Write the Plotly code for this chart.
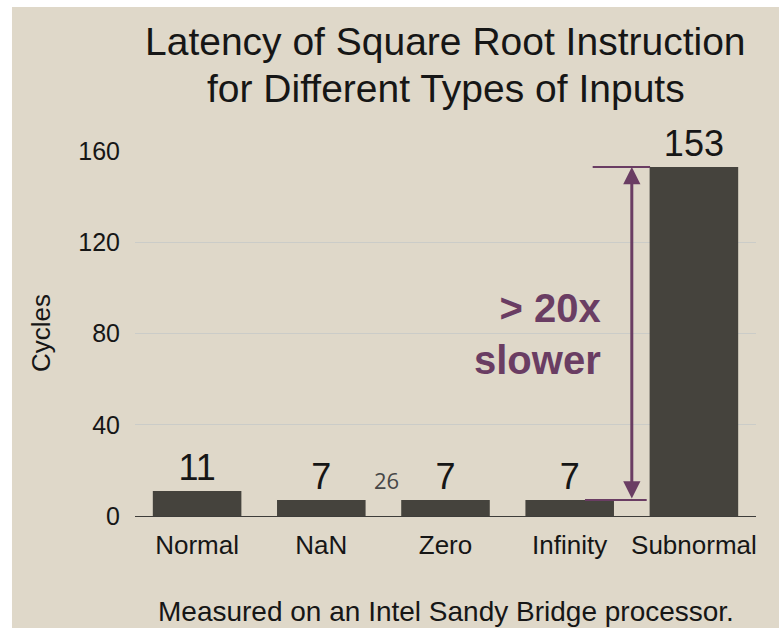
import plotly.graph_objects as go

# Square-root latency by input class (cycles)
categories = ["Normal", "NaN", "Zero", "Infinity", "Subnormal"]
cycles = [11, 7, 7, 7, 153]
y_ticks = [0, 40, 80, 120, 160]

# Reference values for the slowdown bracket
fast_value = 7
slow_value = 153

BG = "#dfd8c9"
BAR = "#45433d"
PURPLE = "#6a3d63"
TEXT = "#161616"
FONT = "Liberation Sans, Arial, sans-serif"

fig = go.Figure()

fig.add_trace(go.Bar(
    x=categories,
    y=cycles,
    marker=dict(color=BAR, line=dict(width=0)),
    text=[str(v) for v in cycles],
    textposition="outside",
    textfont=dict(family=FONT, size=36, color=TEXT),
    cliponaxis=False,
    hoverinfo="skip",
))

annotations = [
    # Title, one annotation per line
    dict(text="Latency of Square Root Instruction",
         xref="paper", yref="paper", x=0.5, y=1.300, xanchor="center", yanchor="middle",
         showarrow=False, font=dict(family=FONT, size=39, color=TEXT)),
    dict(text="for Different Types of Inputs",
         xref="paper", yref="paper", x=0.5, y=1.1715, xanchor="center", yanchor="middle",
         showarrow=False, font=dict(family=FONT, size=39, color=TEXT)),
    # Y-axis title
    dict(text="Cycles", textangle=-90, xref="paper", yref="paper", x=-0.1514, y=0.501,
         xanchor="center", yanchor="middle", showarrow=False,
         font=dict(family=FONT, size=26, color=TEXT)),
    # Footnote
    dict(text="Measured on an Intel Sandy Bridge processor.", xref="paper", yref="paper",
         x=0.5, y=-0.263, xanchor="center", yanchor="middle", showarrow=False,
         font=dict(family=FONT, size=28, color=TEXT)),
    # Slide number
    dict(text="26", xref="x", yref="y", x=1.525, y=15.6, xanchor="center", yanchor="middle",
         showarrow=False, font=dict(family="Open Sans, sans-serif", size=22, color="#474747")),
    # Slowdown callout
    dict(text="<b>&gt; 20x<br>slower</b>", xref="x", yref="y", x=3.265, y=80,
         xanchor="right", yanchor="middle", align="right", showarrow=False,
         font=dict(family=FONT, size=40, color=PURPLE)),
    # Double-headed arrow between the two levels
    dict(text="", xref="x", yref="y", x=3.5, y=slow_value, axref="x", ayref="y",
         ax=3.5, ay=fast_value, showarrow=True, arrowside="end+start",
         arrowhead=2, startarrowhead=2, arrowsize=1.15, startarrowsize=1.15,
         arrowwidth=3, arrowcolor=PURPLE, standoff=0, startstandoff=0),
]

shapes = [
    # white border strips along the left and top edges
    dict(type="rect", xref="paper", yref="paper", x0=-1, x1=-0.1981, y0=-1, y1=2,
         fillcolor="white", line=dict(width=0), layer="above"),
    dict(type="rect", xref="paper", yref="paper", x0=-1, x1=2, y0=1.3945, y1=2,
         fillcolor="white", line=dict(width=0), layer="above"),
    # bracket ticks at the slow and fast levels
    dict(type="line", xref="x", yref="y", x0=3.185, x1=3.647, y0=slow_value, y1=slow_value,
         line=dict(color=PURPLE, width=2)),
    dict(type="line", xref="x", yref="y", x0=3.123, x1=3.62, y0=fast_value, y1=fast_value,
         line=dict(color=PURPLE, width=2)),
]

fig.update_layout(
    width=779, height=628,
    margin=dict(l=135, r=23, t=151, b=112, autoexpand=False),
    paper_bgcolor=BG,
    plot_bgcolor="rgba(0,0,0,0)",
    showlegend=False,
    bargap=0.287,
    annotations=annotations,
    shapes=shapes,
    xaxis=dict(
        type="category",
        range=[-0.5, 4.5],
        showgrid=False, showline=False, zeroline=False, ticks="",
        tickfont=dict(family=FONT, size=26, color=TEXT),
        ticklabelstandoff=11,
        fixedrange=True,
    ),
    yaxis=dict(
        range=[0, 160],
        tickvals=y_ticks,
        showgrid=True, gridcolor="#cbccc8", gridwidth=1,
        zeroline=True, zerolinecolor="#3e3d3a", zerolinewidth=1.3,
        showline=False, ticks="",
        tickfont=dict(family=FONT, size=25, color=TEXT),
        ticklabelstandoff=14,
        fixedrange=True,
    ),
)

fig.write_html("out.html")
